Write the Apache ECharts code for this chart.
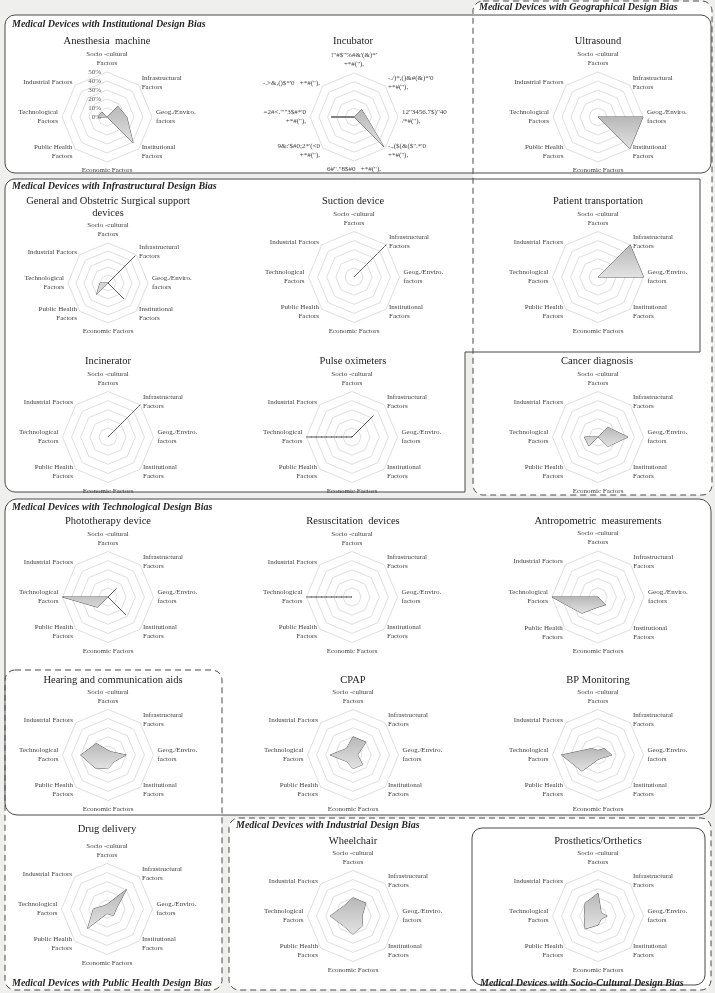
<!DOCTYPE html>
<html><head><meta charset="utf-8">
<script src="https://cdn.jsdelivr.net/npm/echarts@6/dist/echarts.min.js"></script>
<style>html,body{margin:0;padding:0;background:#efefed;}#c{width:715px;height:993px;}</style>
</head><body><div id="c"></div>
<script>
// factor order (clockwise from top)
const factors = ['Socio -cultural\nFactors','Infrastructural\nFactors','Geog./Enviro.\nfactors','Institutional\nFactors','Economic Factors','Public Health\nFactors','Technological\nFactors','Industrial Factors'];
const incubatorFactors = [`!"#$"%#&'(&)*'\n+*#("),`, `-./)*,()&#(&)*'0\n+*#("),`, `12"3456.7$)"40\n/*#("),`, `-.,($(&($".*'0\n+*#("),`, `6#"."8$#0   +*#("),`, `9&:'$#0;2*'(<0\n+*#("),`, `=2#<."'"3$#*'0\n+*#("),`, `-.>&,()$*'0   +*#("),`];
const tickLabels = ['0%','10%','20%','30%','40%','50%'];
const deviceNames = ['Anesthesia  machine','Incubator','Ultrasound','General and Obstetric Surgical support\ndevices','Suction device','Patient transportation','Incinerator','Pulse oximeters','Cancer diagnosis','Phototherapy device','Resuscitation  devices','Antropometric  measurements','Hearing and communication aids','CPAP','BP Monitoring','Drug delivery','Wheelchair','Prosthetics/Orthetics'];
const sectionNames = ['Medical Devices with Institutional Design Bias','Medical Devices with Geographical Design Bias','Medical Devices with Infrastructural Design Bias','Medical Devices with Technological Design Bias','Medical Devices with Industrial Design Bias','Medical Devices with Public Health Design Bias','Medical Devices with Socio-Cultural Design Bias'];

// values in % : socio, infra, geog, inst, econ, public health, tech, industrial
const anesthesia       = [0,17,22,41,0,0,10,8];
const incubator        = [0,12,14,48,0,0,26,0];
const ultrasound       = [0,0,50,50,0,0,0,0];
const generalSurgical  = [0,48,0,28,0,20,10,0];
const suction          = [0,50,0,0,0,0,0,0];
const patientTransport = [0,50,50,0,0,0,0,0];
const incinerator      = [0,50,0,0,0,0,0,0];
const pulseTech        = [0,0,0,0,0,0,50,0];
const pulseInfra       = [0,33,0,0,0,0,0,0];
const cancer           = [0,15,33,15,0,14,15,0];
const phototherapy     = [0,13,0,28,0,16,50,0];
const resuscitation    = [0,0,0,0,0,0,50,0];
const antropometric    = [0,0,0,12,11,25,50,0];
const hearing          = [5,5,20,10,15,20,30,18];
const cpap             = [20,20,5,15,15,10,25,10];
const bpMonitoring     = [5,10,15,5,5,25,40,10];
const drugDelivery     = [5,30,10,10,5,30,15,5];
const wheelchair       = [20,20,10,15,20,15,25,15];
const prosthetics      = [25,5,10,5,10,20,15,20];

const chartData = [
  [[anesthesia,'fill']],[[incubator,'fill']],[[ultrasound,'fill']],
  [[generalSurgical,'fill']],[[suction,'dash']],[[patientTransport,'fill']],
  [[incinerator,'dash']],[[pulseTech,'dash'],[pulseInfra,'line']],[[cancer,'fill']],
  [[phototherapy,'fill']],[[resuscitation,'dash']],[[antropometric,'fill']],
  [[hearing,'fill']],[[cpap,'fill']],[[bpMonitoring,'fill']],
  [[drugDelivery,'fill']],[[wheelchair,'fill']],[[prosthetics,'fill']]
];

// layout: center x, center y, radius, title x, title y
const layout = [
  [107,117,45,107,41],[354,117,44,353,41],[598,117,45,598,41],
  [108,283,40,108,207],[354,277,45.5,353,201],[598,277,45.5,598,201],
  [108,437,45.5,108,361],[352,437,45.5,353,361],[598,437,45.5,597,361],
  [108,597,45.5,108,521],[352,597,45.5,353,521],[598,597,46,598,521],
  [108,755,45.5,113,680],[353,755,45.5,353,680],[598,755,45.5,598,680],
  [107,909,45.5,107,829],[353,916,45.5,353,841],[598,916,45.5,598,841]
];

const ord = [0,7,6,5,4,3,2,1]; // counter-clockwise order for the library
const reorder = a => ord.map(i => a[i]);
const serif = '"Liberation Serif","DejaVu Serif",serif';
const fillGrad = {type:'linear',x:0,y:0,x2:0,y2:1,colorStops:[{offset:0,color:'#b8b8b8'},{offset:1,color:'#e2e2e2'}]};

const radars = [], series = [], titles = [];
layout.forEach((L, i) => {
  const names = i === 1 ? incubatorFactors : factors;
  const indicator = ord.map(k => ({name: names[k], min: 0, max: 50}));
  if (i === 0) {
    indicator[0].axisLabel = {show: true, fontSize: 7, fontFamily: serif, color: '#595959', margin: 6,
      formatter: v => tickLabels[Math.round(v/10)]};
  }
  radars.push({
    center:[L[0],L[1]], radius:L[2], startAngle:90, splitNumber:5, shape:'polygon',
    nameGap:4,
    axisName:{color:'#404040', fontSize:7, fontFamily:serif, lineHeight:9},
    splitLine:{lineStyle:{color:'#d6d6d6', width:0.8}},
    splitArea:{show:false}, axisLine:{show:false}, axisTick:{show:false}, axisLabel:{show:false},
    indicator
  });
  series.push({
    type:'radar', radarIndex:i, symbol:'none', silent:true, z:3,
    data: chartData[i].map(([vals, style]) => {
      const d = {value: reorder(vals), lineStyle:{color:'#595959', width:1, type: style === 'dash' ? [3,2] : 'solid'}};
      if (style === 'fill') d.areaStyle = {color: fillGrad, opacity: 1};
      return d;
    })
  });
  titles.push({text: deviceNames[i], left: L[3], top: L[4] - (i === 3 ? 12 : 6), textAlign:'center', padding:0,
    textStyle:{fontFamily:serif, fontSize:10.5, fontWeight:'normal', color:'#1a1a1a', lineHeight:12}});
});

// boxes
const box = (x,y,w,h,r,dash) => [
  {type:'rect', z:-3, silent:true, shape:{x,y,width:w,height:h,r}, style:{fill:'#ffffff', stroke:null}},
  {type:'rect', z:-1, silent:true, shape:{x,y,width:w,height:h,r}, style:{fill:null, stroke:'#4a4a4a', lineWidth:1, lineDash: dash ? [6,4] : null}}
];
// L-shaped infrastructural box outline with rounded left corners
const arc = (cx, cy, r, a0, a1) => { const p = []; for (let k = 0; k <= 6; k++) { const a = a0 + (a1 - a0) * k / 6; p.push([cx + r*Math.cos(a), cy + r*Math.sin(a)]); } return p; };
const infraPts = [].concat(
  arc(15,189,10,Math.PI,1.5*Math.PI),
  [[700,179],[700,352],[465,352],[465,492]],
  arc(15,482,10,0.5*Math.PI,Math.PI)
);
const graphics = [].concat(
  box(5,15,706,158,10,false),
  box(473,1,239,494,10,true),
  [{type:'polygon', z:-3, silent:true, shape:{points:infraPts}, style:{fill:'#ffffff', stroke:null}},
   {type:'polygon', z:-1, silent:true, shape:{points:infraPts}, style:{fill:null, stroke:'#4a4a4a', lineWidth:1}}],
  box(5,499,706,316,12,false),
  box(5,670,217,320,10,true),
  box(229,818,482,172,10,true),
  box(472,828,233,157,10,false)
);
const secPos = [[12,24],[479,7],[12,186],[12,507],[236,825],[12,983],[480,983]];
secPos.forEach((p, i) => graphics.push({type:'text', z:5, silent:true, x:p[0], y:p[1],
  style:{text: sectionNames[i], fontFamily:serif, fontSize:10, fontStyle:'italic', fontWeight:'bold', fill:'#262626', verticalAlign:'middle'}}));

const chart = echarts.init(document.getElementById('c'), null, {renderer:'canvas'});
chart.setOption({animation:false, backgroundColor:'transparent', title: titles, radar: radars, series, graphic: graphics});
</script></body></html>
